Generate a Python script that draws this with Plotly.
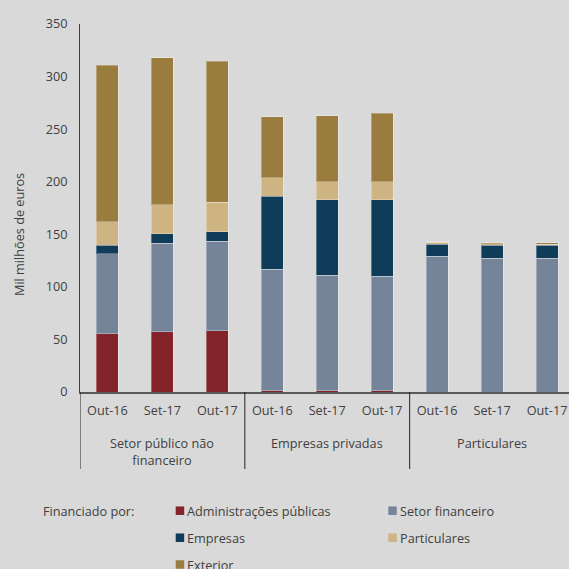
import plotly.graph_objects as go

# ---- data ----
group_labels = ["Setor público não<br>financeiro", "Empresas privadas", "Particulares"]
period_labels = ["Out-16", "Set-17", "Out-17"]

admin_publicas = [55.3, 57.2, 58.1, 1.0, 1.0, 1.0, 0.0, 0.0, 0.0]
setor_financeiro = [76.2, 84.5, 85.5, 115.6, 109.9, 109.2, 129.3, 127.4, 127.4]
empresas = [8.3, 8.6, 8.6, 69.6, 71.8, 72.5, 11.4, 12.1, 12.1]
particulares = [21.9, 27.9, 28.3, 17.4, 17.4, 17.4, 1.6, 1.6, 1.2]
exterior = [148.9, 139.8, 134.3, 58.1, 62.6, 65.2, 0.6, 0.9, 1.3]

series_names = ["Administrações públicas", "Setor financeiro", "Empresas", "Particulares", "Exterior"]
series_values = [admin_publicas, setor_financeiro, empresas, particulares, exterior]
series_colors = ["#85232a", "#768499", "#0e3c59", "#cdb482", "#9a7c3f"]

legend_title = "Financiado por:"
y_title = "Mil milhões de euros"

# category keys (unique) and their displayed tick text
cat_keys = [f"{g}|{p}" for g in group_labels for p in period_labels]
cat_text = [p for g in group_labels for p in period_labels]

FONT = "Open Sans"
TXT = "#404040"
BG = "#d9d9d9"
FS = 12.7

W, H = 569, 569
ML, MR, MT, MB = 80, 0, 24, 177
PW, PH = W - ML - MR, H - MT - MB


def px_to_paper_x(px):
    return (px - ML) / PW


def px_to_paper_y(py):
    return (H - MB - py) / PH


fig = go.Figure()
for name, vals, col in zip(series_names, series_values, series_colors):
    fig.add_trace(go.Bar(
        x=cat_keys, y=vals, name=name,
        marker=dict(color=col, line=dict(color="rgba(255,255,255,0.3)", width=1)),
        showlegend=False,
    ))

fig.update_layout(
    barmode="stack",
    bargap=0.6,
    width=W, height=H,
    margin=dict(l=ML, r=MR, t=MT, b=MB, autoexpand=False),
    paper_bgcolor=BG, plot_bgcolor=BG,
    font=dict(family=FONT, size=FS, color=TXT),
)
fig.update_xaxes(
    type="category",
    categoryorder="array", categoryarray=cat_keys,
    tickvals=cat_keys, ticktext=cat_text,
    range=[-0.5, 8.4],
    showline=True, linecolor="#5a5a5a", linewidth=1.5,
    showgrid=False, zeroline=False,
    ticks="outside", ticklen=6, tickcolor="rgba(0,0,0,0)",
    tickfont=dict(family=FONT, size=FS, color=TXT),
)
fig.update_yaxes(
    range=[0, 350], dtick=50,
    showline=True, linecolor="#404040", linewidth=1,
    showgrid=False, zeroline=False,
    ticks="outside", ticklen=9, tickcolor="rgba(0,0,0,0)",
    tickfont=dict(family=FONT, size=FS, color=TXT),
)

annotations = [
    dict(text=y_title, xref="paper", yref="paper",
         x=px_to_paper_x(19), y=px_to_paper_y(235), textangle=-90,
         xanchor="center", yanchor="middle",
         showarrow=False, font=dict(family=FONT, size=FS, color=TXT)),
    dict(text=legend_title, xref="paper", yref="paper",
         x=px_to_paper_x(41), y=px_to_paper_y(511), xanchor="left", yanchor="middle",
         showarrow=False, font=dict(family=FONT, size=FS, color=TXT)),
]
shapes = []

# group labels and dividers
n_per = len(period_labels)
for gi, g in enumerate(group_labels):
    mid_key = cat_keys[gi * n_per + n_per // 2]
    annotations.append(dict(text=g, xref="x", yref="paper", x=mid_key,
                            y=px_to_paper_y(432), xanchor="center", yanchor="top",
                            showarrow=False, font=dict(family=FONT, size=FS, color=TXT)))
    shapes.append(dict(type="line", xref="x", yref="paper",
                       x0=gi * n_per - 0.5, x1=gi * n_per - 0.5,
                       y0=0, y1=px_to_paper_y(469),
                       line=dict(color="#222222", width=1)))

# legend
col_x = [175.7, 388.3]
row_y = [510.7, 537.7, 564.5]
SQ = 8.5
for i, (name, col) in enumerate(zip(series_names, series_colors)):
    cx = col_x[i % 2]
    cy = row_y[i // 2]
    shapes.append(dict(type="rect", xref="paper", yref="paper",
                       x0=px_to_paper_x(cx), x1=px_to_paper_x(cx + SQ),
                       y0=px_to_paper_y(cy + SQ / 2), y1=px_to_paper_y(cy - SQ / 2),
                       fillcolor=col, line=dict(width=0), layer="above"))
    annotations.append(dict(text=name, xref="paper", yref="paper",
                            x=px_to_paper_x(cx + SQ + 1), y=px_to_paper_y(cy),
                            xanchor="left", yanchor="middle", showarrow=False,
                            font=dict(family=FONT, size=FS, color=TXT)))

fig.update_layout(annotations=annotations, shapes=shapes)

fig.write_html(
    "out.html",
    config={"displayModeBar": False},
    post_script="document.body.style.margin='0';document.body.style.padding='0';"
                "document.body.style.overflow='hidden';",
)
